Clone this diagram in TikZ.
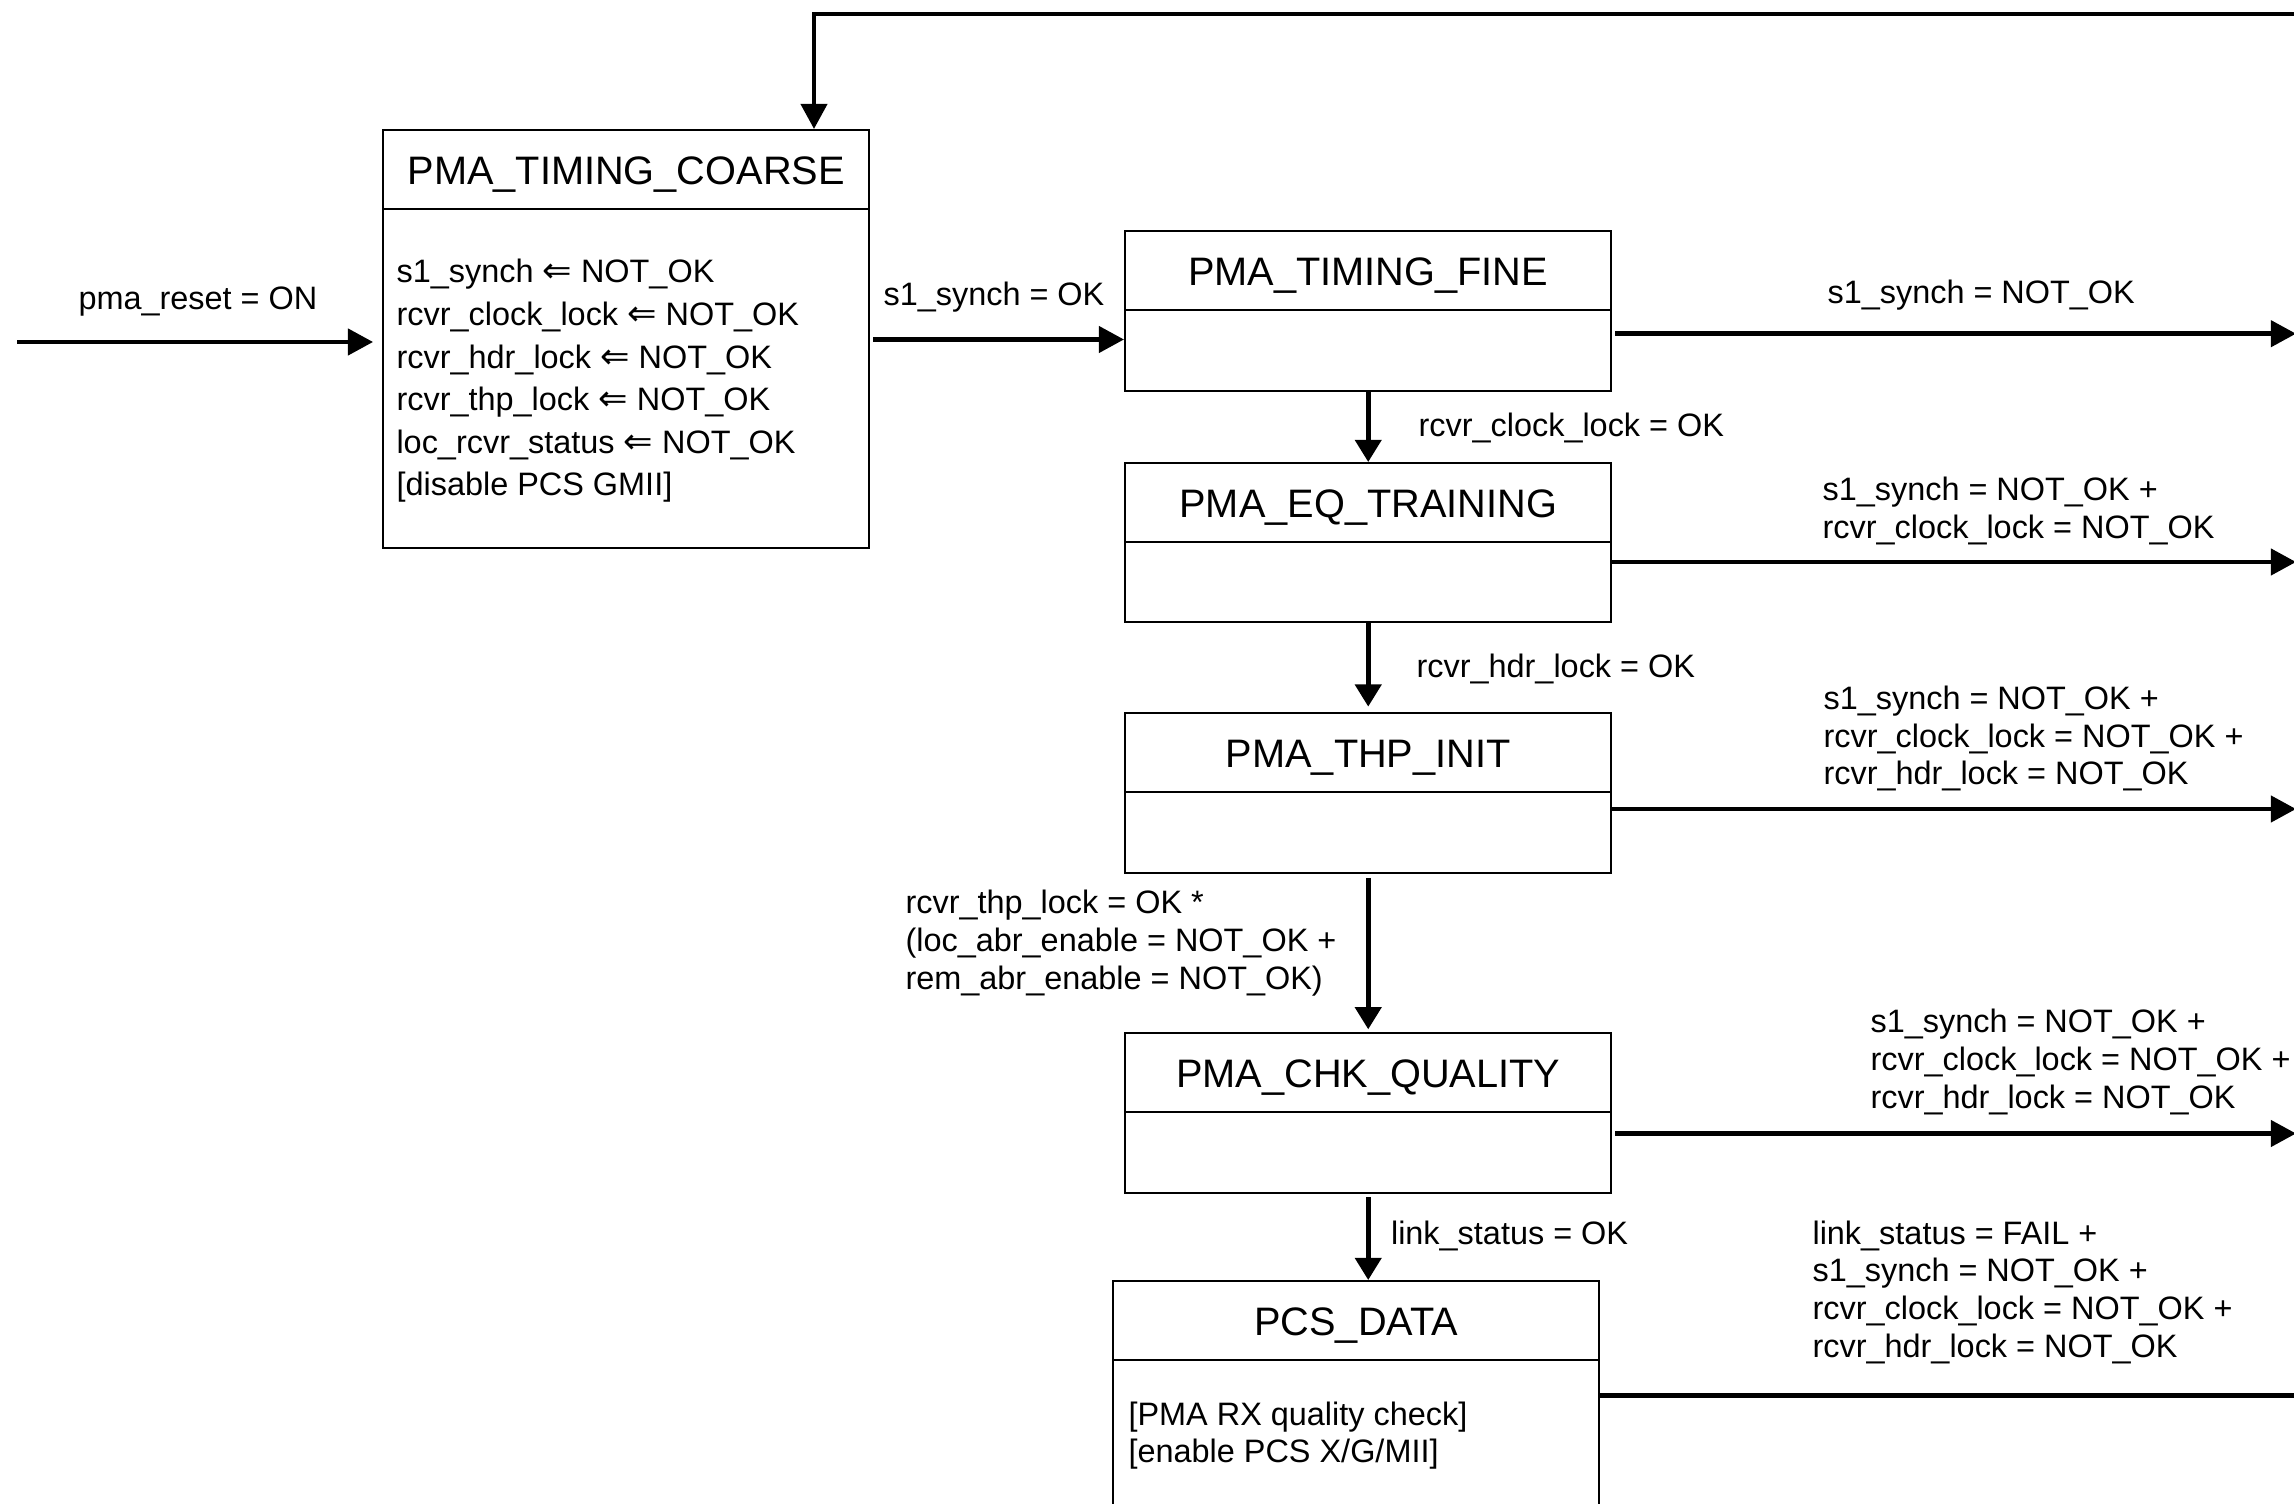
\documentclass[tikz,border=0pt]{standalone}
\usepackage{fontspec}
\setmainfont{Liberation Sans}
\newfontfamily\arrowfont{DejaVu Sans}
\usetikzlibrary{arrows.meta,calc}
% assignment arrow used in the state actions
\newcommand{\assign}{{\arrowfont\fontsize{13}{15}\selectfont ⇐}}
% left-aligned stack of lines whose baseline is the first line
\newcommand{\stack}[1]{\begin{tabular}[t]{@{}l@{}}#1\end{tabular}}

\begin{document}
\begin{tikzpicture}[x=0.37pt,y=-0.37pt,
  state/.style={draw, line width=0.9pt, rectangle, inner sep=0pt,
    anchor=north west, minimum width=486*0.37pt},
  divider/.style={line width=0.9pt},
  title/.style={anchor=base, inner sep=0pt, font=\fontsize{14.7}{17}\selectfont},
  lbl/.style={anchor=base west, inner sep=0pt, font=\fontsize{12}{13.9}\selectfont},
  body/.style={anchor=base west, inner sep=0pt, font=\fontsize{12}{15.76}\selectfont},
  pcsbody/.style={anchor=base west, inner sep=0pt, font=\fontsize{12}{13.7}\selectfont},
  conn/.style={line width=1.7pt, -{Triangle[length=9.3pt,width=9.6pt]}},
  vconn/.style={line width=1.7pt, -{Triangle[length=8.2pt,width=9.6pt]}},
  wire/.style={line width=1.7pt},
]
\fill[white] (0,0) rectangle (2294,1504);
\useasboundingbox (0,0) rectangle (2294,1504);
\clip (0,0) rectangle (2294,1504);

% ---- states ----
\node[state, minimum height=418*0.37pt] (coarse) at (382,129) {};
\node[state, minimum height=160*0.37pt] (fine)   at (1124,230) {};
\node[state, minimum height=159*0.37pt] (eq)     at (1124,462) {};
\node[state, minimum height=160*0.37pt] (thp)    at (1124,712) {};
\node[state, minimum height=160*0.37pt] (chk)    at (1124,1032) {};
\node[state, minimum height=418*0.37pt] (pcs)    at (1112,1280) {};

\foreach \s/\t in {coarse/PMA\_TIMING\_COARSE, fine/PMA\_TIMING\_FINE,
                   eq/PMA\_EQ\_TRAINING, thp/PMA\_THP\_INIT,
                   chk/PMA\_CHK\_QUALITY, pcs/PCS\_DATA}{
  \node[title] (\s-title) at ($(\s.north)+(0,55.5)$) {\t};
  \draw[divider] ($(\s.north west)+(0,80)$) -- ($(\s.north east)+(0,80)$);
}

\node[body] (coarse-body) at (396,283) {\stack{%
  s1\_synch \assign{} NOT\_OK\\
  rcvr\_clock\_lock \assign{} NOT\_OK\\
  rcvr\_hdr\_lock \assign{} NOT\_OK\\
  rcvr\_thp\_lock \assign{} NOT\_OK\\
  loc\_rcvr\_status \assign{} NOT\_OK\\
  \relax[disable PCS GMII]}};
\node[pcsbody] (pcs-body) at (1128,1425) {\stack{%
  \relax[PMA RX quality check]\\
  \relax[enable PCS X/G/MII]}};

% ---- connector levels ----
\coordinate (start)  at (17,342);
\coordinate (okrow)  at (0,339.5);
\coordinate (outA)   at (2296,333.7);
\coordinate (outB)   at (2296,562);
\coordinate (outC)   at (2296,809);
\coordinate (outD)   at (2296,1133.5);
\coordinate (outE)   at (2296,1395.4);
\coordinate (backR)  at (2296,14);
\coordinate (backL)  at (814,14);

% ---- connectors ----
\draw[conn, shorten >=3.3pt] (start) -- (start -| coarse.west);
\draw[conn, shorten <=1pt] (coarse.east |- okrow) -- (fine.west |- okrow);
\draw[vconn] (fine.south) -- (eq.north);
\draw[vconn, shorten >=2pt] (eq.south) -- (thp.north);
\draw[vconn, shorten <=1.3pt, shorten >=1pt] (thp.south) -- (chk.north);
\draw[vconn, shorten <=1.1pt] (chk.south) -- (chk.south |- pcs.north);

\draw[conn, shorten <=1pt] (fine.east |- outA) -- (outA);
\draw[conn] (eq.east |- outB) -- (outB);
\draw[conn] (thp.east |- outC) -- (outC);
\draw[conn, shorten <=1pt] (chk.east |- outD) -- (outD);
\draw[wire] (pcs.east |- outE) -- (outE);
\draw[conn] (backR) -- (backL) -- (backL |- coarse.north);

% ---- transition labels ----
\node[lbl] (l-reset) at (78,310) {pma\_reset = ON};
\node[lbl] (l-sok)   at (883,306) {s1\_synch = OK};
\node[lbl] (l-outA)  at (1827,304) {s1\_synch = NOT\_OK};
\node[lbl] (l-clk)   at (1418,437) {rcvr\_clock\_lock = OK};
\node[lbl] (l-outB)  at (1822,501) {\stack{s1\_synch = NOT\_OK +\\ rcvr\_clock\_lock = NOT\_OK}};
\node[lbl] (l-hdr)   at (1416,678) {rcvr\_hdr\_lock = OK};
\node[lbl] (l-outC)  at (1823,709.5) {\stack{s1\_synch = NOT\_OK +\\ rcvr\_clock\_lock = NOT\_OK +\\ rcvr\_hdr\_lock = NOT\_OK}};
\node[lbl] (l-thp)   at (905,914) {\stack{rcvr\_thp\_lock = OK *\\ (loc\_abr\_enable = NOT\_OK +\\ rem\_abr\_enable = NOT\_OK)}};
\node[lbl] (l-outD)  at (1870,1033) {\stack{s1\_synch = NOT\_OK +\\ rcvr\_clock\_lock = NOT\_OK +\\ rcvr\_hdr\_lock = NOT\_OK}};
\node[lbl] (l-link)  at (1390.5,1244) {link\_status = OK};
\node[lbl] (l-outE)  at (1812,1244.4) {\stack{link\_status = FAIL +\\ s1\_synch = NOT\_OK +\\ rcvr\_clock\_lock = NOT\_OK +\\ rcvr\_hdr\_lock = NOT\_OK}};
\end{tikzpicture}
\end{document}
